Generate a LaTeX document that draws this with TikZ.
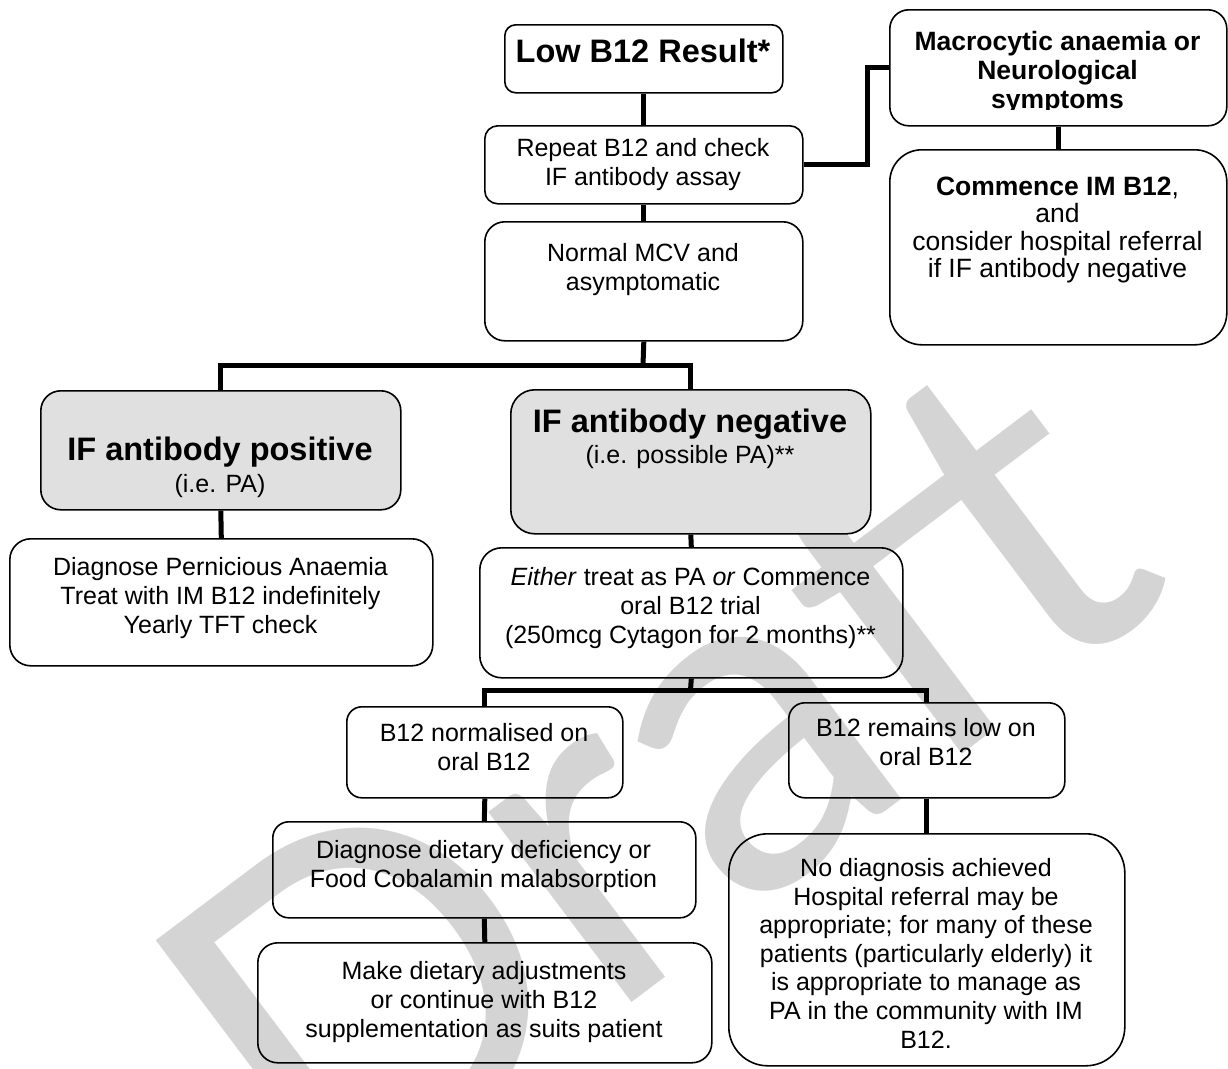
\documentclass[tikz,border=0pt]{standalone}
\usepackage{fontspec}
\setmainfont{Liberation Sans}
\IfFontExistsTF{Lato}{\newfontfamily\wmfont{Lato}}{\newfontfamily\wmfont{Carlito}}
\definecolor{boxgray}{gray}{0.88}
\definecolor{wmgray}{gray}{0.83}
\begin{document}
\begin{tikzpicture}[x=1pt,y=-1pt,
  box/.style={draw=black, line width=1.6pt, inner sep=0pt, anchor=north west},
  gbox/.style={box, fill=boxgray},
  conn/.style={draw=black, line width=5pt},
  txt/.style={anchor=base, align=center, inner sep=0pt, font=\fontsize{25}{28.6}\selectfont},
  btxt/.style={anchor=base, align=center, inner sep=0pt, font=\fontsize{32.5}{36}\selectfont\bfseries},
  mtxt/.style={anchor=base, align=center, inner sep=0pt, font=\fontsize{26.5}{27.5}\selectfont}
]
\useasboundingbox (0,0) rectangle (1228,1068);
% watermark
\node[rotate=37, anchor=base east, text=wmgray, inner sep=0pt, font=\wmfont\fontsize{470}{470}\selectfont] (wm) at (1180,590) {Draft};
% boxes
\node[box, minimum width=278pt, minimum height=68pt, rounded corners=11pt] (low) at (504,24) {};
\node[box, minimum width=318pt, minimum height=78pt, rounded corners=13pt] (repeat) at (484,125) {};
\node[box, minimum width=318pt, minimum height=119pt, rounded corners=20pt] (normal) at (484,221) {};
\node[box, minimum width=337pt, minimum height=116pt, rounded corners=19pt] (macro) at (889,9) {};
\node[box, minimum width=337pt, minimum height=195pt, rounded corners=32pt] (commence) at (889,149) {};
\node[gbox, minimum width=360pt, minimum height=119pt, rounded corners=20pt] (ifpos) at (40,390) {};
\node[gbox, minimum width=360pt, minimum height=144pt, rounded corners=24pt] (ifneg) at (510,389) {};
\node[box, minimum width=423pt, minimum height=127pt, rounded corners=21pt] (dpa) at (9,538) {};
\node[box, minimum width=423pt, minimum height=130pt, rounded corners=22pt] (either) at (479,547) {};
\node[box, minimum width=276pt, minimum height=91pt, rounded corners=15pt] (norm) at (346,706) {};
\node[box, minimum width=276pt, minimum height=95pt, rounded corners=16pt] (remain) at (788,702) {};
\node[box, minimum width=423pt, minimum height=96pt, rounded corners=16pt] (diet) at (272,821) {};
\node[box, minimum width=454pt, minimum height=120pt, rounded corners=20pt] (make) at (257,942) {};
\node[box, minimum width=396pt, minimum height=232pt, rounded corners=39pt] (nodiag) at (728,833) {};
% connectors
\coordinate (s1) at (643,365);
\coordinate (s2) at (690.5,690);
\draw[conn] (low.south) -- (repeat.north);
\draw[conn] (repeat.south) -- (normal.north);
\draw[conn] (repeat.east) -- ++(64,0) |- (macro.west);
\draw[conn] (macro.south) -- (commence.north);
\draw[conn] (normal.south) -- (s1);
\draw[conn] (ifpos.north) |- (s1) -| (ifneg.north);
\draw[conn] (ifpos.south) -- (dpa.north);
\draw[conn] (ifneg.south) -- (either.north);
\draw[conn] (either.south) -- (s2);
\draw[conn] (norm.north) |- (s2) -| (remain.north);
\draw[conn] (norm.south) -- (diet.north);
\draw[conn] (diet.south) -- (make.north);
\draw[conn] (remain.south) -- (nodiag.north);
% texts (anchor = baseline of the last line)
\node[btxt] (low-t) at (643,62) {Low B12 Result*};
\node[txt] (repeat-t) at (643,185) {Repeat B12 and check\\IF antibody assay};
\node[txt] (normal-t) at (643,290) {Normal MCV and\\asymptomatic};
\begin{scope}
\clip (889,9) rectangle (1228,109);
\node[mtxt, font=\fontsize{26.5}{29}\selectfont\bfseries] (macro-t) at (1057.5,108) {Macrocytic anaemia or\\Neurological\\symptoms};
\end{scope}
\node[mtxt] (commence-t) at (1057.5,277.5) {\textbf{Commence IM B12},\\and\\consider hospital referral\\if IF antibody negative};
\node[btxt] (ifpos-t1) at (220,460) {IF antibody positive};
\node[txt] (ifpos-t2) at (220,492) {(i.e. PA)};
\node[btxt] (ifneg-t1) at (690,432) {IF antibody negative};
\node[txt] (ifneg-t2) at (690,463) {(i.e. possible PA)**};
\node[txt] (dpa-t) at (220.5,633) {Diagnose Pernicious Anaemia\\Treat with IM B12 indefinitely\\Yearly TFT check};
\node[txt] (either-t) at (690.5,643) {\textit{Either} treat as PA \textit{or} Commence\\oral B12 trial\\(250mcg Cytagon for 2 months)**};
\node[txt] (norm-t) at (484,770) {B12 normalised on\\oral B12};
\node[txt] (remain-t) at (926,765) {B12 remains low on\\oral B12};
\node[txt] (diet-t) at (483.5,887) {Diagnose dietary deficiency or\\Food Cobalamin malabsorption};
\node[txt] (make-t) at (484,1037) {Make dietary adjustments\\or continue with B12\\supplementation as suits patient};
\node[txt] (nodiag-t) at (926,1048) {No diagnosis achieved\\Hospital referral may be\\appropriate; for many of these\\patients (particularly elderly) it\\is appropriate to manage as\\PA in the community with IM\\B12.};
\end{tikzpicture}
\end{document}
